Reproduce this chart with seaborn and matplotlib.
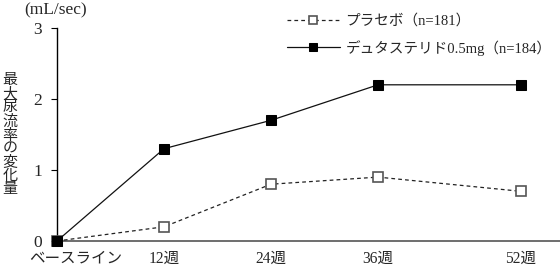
import matplotlib
matplotlib.use("Agg")
import matplotlib.pyplot as plt
import matplotlib.transforms as mtransforms
import seaborn as sns
import pandas as pd

weeks = [0, 12, 24, 36, 52]
tick_labels = ["ベースライン", "12週", "24週", "36週", "52週"]
placebo = [0, 0.2, 0.8, 0.9, 0.7]
dutasteride = [0, 1.3, 1.7, 2.2, 2.2]
placebo_label = "プラセボ（n=181）"
duta_label = "デュタステリド0.5mg（n=184）"
ylabel = "最大尿流率の変化量"
unit = "(mL/sec)"

sns.set_style("white")
plt.rcParams["font.family"] = ["Liberation Serif", "Noto Sans CJK JP"]

fig = plt.figure(figsize=(5.6, 2.66), dpi=100)
ax = fig.add_axes([57/560, 25/266, 1 - 57/560, 213/266])

df_p = pd.DataFrame({"week": weeks, "value": placebo})
df_d = pd.DataFrame({"week": weeks, "value": dutasteride})

sns.lineplot(data=df_p, x="week", y="value", ax=ax, color="#222222", lw=0.9,
             linestyle=(0, (3, 2.5)), marker="s", markersize=7,
             markerfacecolor="white", markeredgecolor="#555555",
             markeredgewidth=1.2, clip_on=False, zorder=3, legend=False)
sns.lineplot(data=df_d, x="week", y="value", ax=ax, color="#111111", lw=0.9,
             marker="s", markersize=7, markerfacecolor="black",
             markeredgecolor="black", clip_on=False, zorder=4, legend=False)

ax.set_xlim(0, 56.4)
ax.set_ylim(0, 3)
ax.set_xticks(weeks)
ax.set_xticklabels(tick_labels, fontsize=11.2)
ax.set_yticks([0, 1, 2, 3])
ax.set_yticklabels(["0", "1", "2", "3"], fontsize=12.5)
ax.tick_params(axis="y", length=4, width=0.8, color="black", direction="out", pad=7, left=True)
ax.tick_params(axis="x", length=0, pad=7)
ax.set_xlabel("")
ax.set_ylabel("")
for s in ["top", "right"]:
    ax.spines[s].set_visible(False)
ax.spines["left"].set_color("black")
ax.spines["left"].set_linewidth(1.0)
ax.spines["bottom"].set_color("#555555")
ax.spines["bottom"].set_linewidth(1.2)

# shift the baseline label to the right, as in the reference
first = ax.get_xticklabels()[0]
first.set_transform(first.get_transform() + mtransforms.ScaledTranslation(19/100, 0, fig.dpi_scale_trans))

fig.text(10/560, 1 - 135/266, "\n".join(ylabel), ha="center", va="center",
         fontsize=10.8, linespacing=1.0)
fig.text(24/560, 1 - 10/266, unit, ha="left", va="center", fontsize=12.5)

lines = ax.get_lines()
leg = fig.legend([lines[0], lines[1]], [placebo_label, duta_label], loc="upper left",
                 bbox_to_anchor=(274/560, 1 - 1/266),
                 frameon=False, fontsize=10.5, handlelength=3.6, handletextpad=0.4,
                 labelspacing=0.8, numpoints=1, markerscale=0.8)

fig.savefig("out.png", dpi=100)
